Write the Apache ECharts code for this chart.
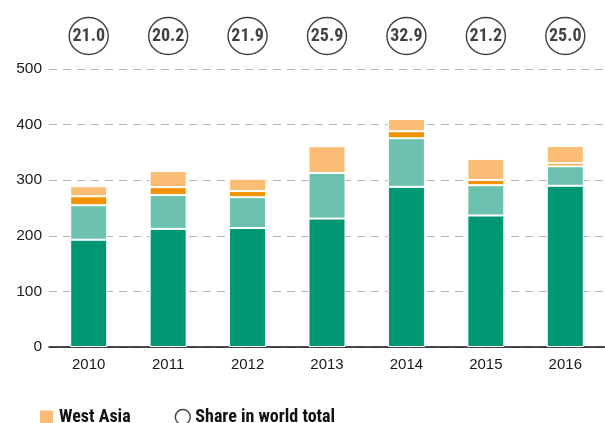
<!DOCTYPE html>
<html>
<head>
<meta charset="utf-8">
<script src="https://cdn.jsdelivr.net/npm/echarts@6/dist/echarts.min.js"></script>
<style>
html,body{margin:0;padding:0;background:#fff;}
#chart{width:605px;height:423px;}
</style>
</head>
<body>
<div id="chart"></div>
<script>
var years = ['2010','2011','2012','2013','2014','2015','2016'];
var darkGreen  = [193, 212.5, 214, 231, 288, 236.5, 290];
var lightGreen = [62, 61, 55.5, 82, 87.5, 54.5, 35];
var orange     = [16, 14, 11, 0, 12.5, 9.5, 5.5];
var westAsia   = [18, 29, 22, 48, 22, 37.5, 31];
var share      = [21.0, 20.2, 21.9, 25.9, 32.9, 21.2, 25.0];
var yTicks     = [0, 100, 200, 300, 400, 500];

var NARROW = "'Roboto Condensed','DejaVu Sans Condensed',sans-serif";
var SANS = "'Liberation Sans',Arial,Helvetica,sans-serif";
var chart = echarts.init(document.getElementById('chart'));

function barSeries(name, data, color) {
  return {
    name: name, type: 'bar', stack: 'total', data: data,
    barWidth: 37, xAxisIndex: 0, yAxisIndex: 0,
    itemStyle: {color: color, borderColor: '#fff', borderWidth: 1},
    emphasis: {disabled: true}
  };
}

chart.setOption({
  animation: false,
  textStyle: {fontFamily: SANS},
  grid: [
    {left: 49, top: 69, width: 562, height: 278},
    {left: 49, top: 17, width: 562, height: 38}
  ],
  legend: {
    left: 33, top: 403,
    itemWidth: 15, itemHeight: 15, itemGap: 44,
    data: [
      {name: 'West Asia', icon: 'rect'},
      {name: 'Share in world total', icon: 'circle', itemStyle: {color: '#fff', borderColor: '#111', borderWidth: 1.4}}
    ],
    textStyle: {fontFamily: NARROW, fontSize: 18, fontWeight: 'bold', color: '#111'}
  },
  xAxis: [
    {type: 'category', gridIndex: 0, data: years,
     axisLine: {lineStyle: {color: '#111', width: 1.5}},
     axisTick: {show: false},
     axisLabel: {fontFamily: SANS, fontSize: 15, color: '#1a1a1a', margin: 10}},
    {type: 'category', gridIndex: 1, data: years, show: false}
  ],
  yAxis: [
    {type: 'value', gridIndex: 0, min: yTicks[0], max: yTicks[yTicks.length-1], interval: 100,
     axisLine: {show: false}, axisTick: {show: false},
     axisLabel: {fontFamily: SANS, fontSize: 15.5, color: '#1a1a1a', margin: 7},
     splitLine: {lineStyle: {color: '#b3b3b3', width: 1.2, type: [8, 6]}}},
    {type: 'value', gridIndex: 1, min: 0, max: 1, show: false}
  ],
  series: [
    barSeries('Dark', darkGreen, '#009775'),
    barSeries('Light', lightGreen, '#6cc2ae'),
    barSeries('Orange', orange, '#f39200'),
    barSeries('West Asia', westAsia, '#fbbc76'),
    {
      name: 'Share in world total', type: 'scatter', xAxisIndex: 1, yAxisIndex: 1,
      data: share.map(function () { return 0.5; }),
      symbol: 'circle', symbolSize: [39, 37],
      itemStyle: {color: '#fff', borderColor: '#111', borderWidth: 1.4},
      label: {show: true, position: 'inside', fontFamily: NARROW, fontSize: 18, fontWeight: 'bold', color: '#111',
        formatter: function (p) { return share[p.dataIndex].toFixed(1); }},
      emphasis: {disabled: true}
    }
  ]
});
</script>
</body>
</html>
